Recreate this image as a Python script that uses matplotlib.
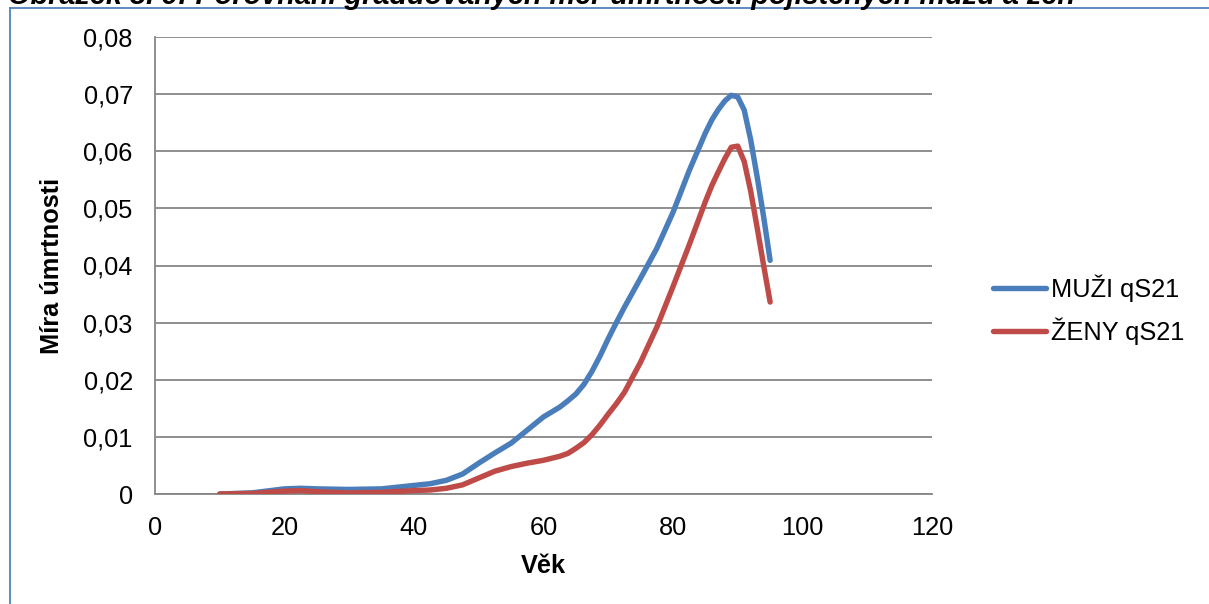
import matplotlib
matplotlib.use("Agg")
import matplotlib.pyplot as plt
from matplotlib.lines import Line2D
from matplotlib.ticker import FuncFormatter, MultipleLocator

# hodnoty
vek = [10, 15, 20, 22.5, 25, 30, 35, 40, 42.5, 45, 47.5, 50, 52.5, 55, 57.5, 60,
       62.5, 63.75, 65, 66.25, 67.5, 68.75, 70, 71.25, 72.5, 75, 77.5, 80,
       82.5, 85, 86, 87, 88, 89, 90, 91, 92, 93, 94, 95]
muzi_qs21 = [0.0000, 0.0002, 0.0009, 0.0010, 0.0009, 0.0008, 0.0009, 0.0015,
             0.0018, 0.0024, 0.0035, 0.0054, 0.0072, 0.0089, 0.0112, 0.0135,
             0.0152, 0.0163, 0.0175, 0.0192, 0.0215, 0.0242, 0.0272, 0.0300,
             0.0327, 0.0378, 0.0430, 0.0493,
             0.0566, 0.0632, 0.0655, 0.0673, 0.0688, 0.0698, 0.0695, 0.0672,
             0.0620, 0.0555, 0.0485, 0.0409]
zeny_qs21 = [0.0000, 0.0001, 0.0005, 0.0006, 0.0004, 0.0002, 0.0003, 0.0006,
             0.0007, 0.0010, 0.0016, 0.0028, 0.0040, 0.0048, 0.0054, 0.0059,
             0.0066, 0.0071, 0.0080, 0.0090, 0.0104, 0.0121, 0.0140, 0.0158,
             0.0178, 0.0231, 0.0292, 0.0363,
             0.0436, 0.0512, 0.0540, 0.0564, 0.0587, 0.0607, 0.0609, 0.0582,
             0.0530, 0.0466, 0.0400, 0.0336]
nazvy = ["MUŽI qS21", "ŽENY qS21"]
titulek = "Obrázek 8. 9: Porovnání graduovaných měr úmrtnosti pojištěných mužů a žen"

plt.rcParams["font.family"] = ["Liberation Sans", "DejaVu Sans"]
FS = 18.3
W, H = 1209, 604

fig = plt.figure(figsize=(W / 100, H / 100), dpi=100)
ax = fig.add_axes([155 / W, 1 - 494 / H, (932 - 155) / W, (494 - 37) / H])

ax.plot(vek, muzi_qs21, color="#4A7EBB", lw=3.9, label=nazvy[0],
        solid_capstyle="round", solid_joinstyle="round", zorder=3)
ax.plot(vek, zeny_qs21, color="#BE4B48", lw=3.9, label=nazvy[1],
        solid_capstyle="round", solid_joinstyle="round", zorder=4)

ax.set_xlim(0, 120)
ax.set_ylim(0, 0.08)
ax.xaxis.set_major_locator(MultipleLocator(20))
ax.yaxis.set_major_locator(MultipleLocator(0.01))
ax.yaxis.set_major_formatter(FuncFormatter(
    lambda v, p: "0" if abs(v) < 1e-9 else f"{v:.2f}".replace(".", ",")))
ax.tick_params(length=0, labelsize=FS, pad=16)
ax.grid(axis="y", color="#868686", lw=1.3)
ax.set_axisbelow(True)
for s in ["top", "right"]:
    ax.spines[s].set_visible(False)
for s in ["left", "bottom"]:
    ax.spines[s].set_color("#868686")
    ax.spines[s].set_linewidth(1.3)

ax.set_xlabel("Věk", fontsize=FS, fontweight="bold", labelpad=10)
ax.set_ylabel("Míra úmrtnosti", fontsize=FS, fontweight="bold", labelpad=14)

ax.legend(loc="center left", bbox_to_anchor=(993 / W, 1 - 310 / H),
          bbox_transform=fig.transFigure, frameon=False, fontsize=FS,
          handlelength=2.1, handletextpad=0.2, labelspacing=0.6,
          borderpad=0, borderaxespad=0)

# rámeček a useknutý titulek nahoře
fig.add_artist(Line2D([10 / W, 1], [1 - 7.5 / H, 1 - 7.5 / H],
                      transform=fig.transFigure, color="#4F81BD", lw=1.3))
fig.add_artist(Line2D([10 / W, 10 / W], [0, 1 - 7.5 / H],
                      transform=fig.transFigure, color="#4F81BD", lw=1.3))
fig.text(8 / W, 1 - 4 / H, titulek, fontsize=20.8, fontweight="bold",
         fontstyle="italic", va="baseline", ha="left")

fig.savefig("out.png", dpi=100)
